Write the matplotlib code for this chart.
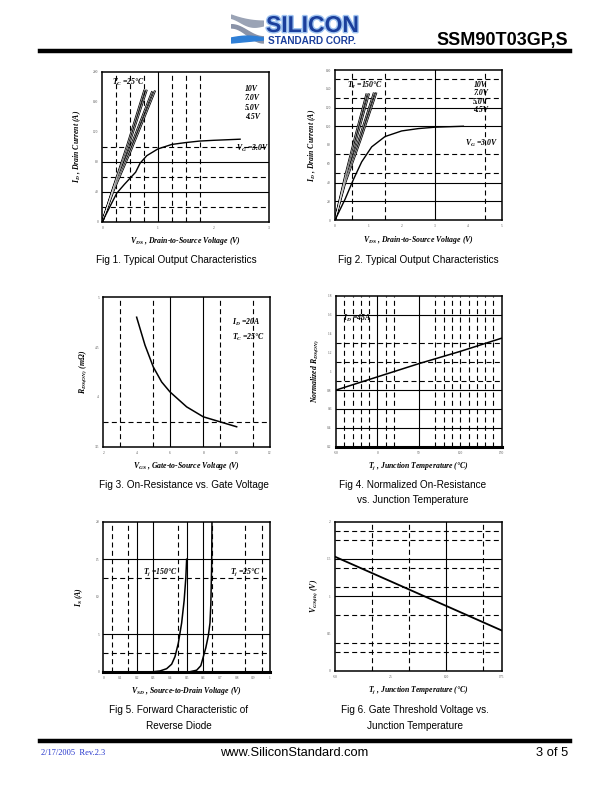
import matplotlib
matplotlib.use('Agg')
import matplotlib.pyplot as plt
import matplotlib.patheffects as pe
import numpy as np

plt.rcParams['mathtext.fontset'] = 'custom'
plt.rcParams['mathtext.it'] = 'Liberation Serif:italic:bold'
plt.rcParams['mathtext.rm'] = 'Liberation Serif:italic:bold'
plt.rcParams['mathtext.bf'] = 'Liberation Serif:bold'

# ---- data ----
# Fig 1 : Tc = 25C
f1_vds_10v = [0, 0.2, 0.45, 0.76]
f1_id_10v = [0, 46, 102, 176]
f1_vds_7v = [0, 0.2, 0.47, 0.80]
f1_id_7v = [0, 45, 101, 176]
f1_vds_5v = [0, 0.2, 0.5, 0.90]
f1_id_5v = [0, 43, 98, 174]
f1_vds_45v = [0, 0.2, 0.52, 0.95]
f1_id_45v = [0, 41, 96, 175]
f1_vds_3v = [0, 0.15, 0.26, 0.4, 0.5, 0.6, 0.68, 0.8, 1.0, 1.25, 1.5, 1.75, 2.0, 2.48]
f1_id_3v = [0, 22, 38, 50, 58, 66, 78, 88, 97, 103, 105.5, 107.5, 108.5, 110]

# Fig 2 : Tj = 150C
f2_vds_10v = [0, 0.3, 0.6, 0.95]
f2_id_10v = [0, 46, 88, 135]
f2_vds_7v = [0, 0.3, 0.65, 1.02]
f2_id_7v = [0, 44, 88, 135]
f2_vds_5v = [0, 0.3, 0.72, 1.17]
f2_id_5v = [0, 41, 86, 136]
f2_vds_45v = [0, 0.3, 0.76, 1.24]
f2_id_45v = [0, 39, 85, 136]
f2_vds_3v = [0, 0.3, 0.55, 0.8, 1.1, 1.5, 2.0, 2.5, 3.0, 3.85]
f2_id_3v = [0, 22, 43, 62, 78, 89, 95, 97.5, 99, 100]

# Fig 3 : RDS(on) vs VGS
f3_vgs = [4, 4.5, 5, 5.5, 6, 7, 8, 9, 10]
f3_rds = [4.80, 4.52, 4.30, 4.15, 4.05, 3.90, 3.80, 3.75, 3.70]

# Fig 4 : normalized RDS(on) vs Tj
f4_tj = [-50, 0, 50, 100, 150]
f4_rn = [0.80, 0.94, 1.08, 1.21, 1.35]

# Fig 5 : body diode
f5_vsd_150 = [0.30, 0.34, 0.38, 0.41, 0.43, 0.45, 0.47, 0.485, 0.495, 0.50]
f5_is_150 = [0.0, 0.1, 0.4, 1.0, 2.0, 3.8, 6.5, 9.5, 12.5, 15.0]
f5_vsd_25 = [0.52, 0.56, 0.585, 0.60, 0.615, 0.63, 0.64, 0.645, 0.65, 0.652]
f5_is_25 = [0.0, 0.2, 0.8, 2.0, 3.2, 4.8, 6.5, 9.0, 14.0, 20.0]

# Fig 6 : VGS(th) vs Tj
f6_tj = [-50, 25, 100, 175]
f6_vth = [1.53, 1.20, 0.87, 0.54]

# axis ticks
f1_xticks = [0, 1, 2, 3]
f1_yticks = [0, 40, 80, 120, 160, 200]
f2_xticks = [0, 1, 2, 3, 4, 5]
f2_yticks = [0, 20, 40, 60, 80, 100, 120, 140, 160]
f3_xticks = [2, 4, 6, 8, 10, 12]
f3_yticks = [3.5, 4.0, 4.5, 5.0]
f4_xticks = [-50, 0, 50, 100, 150]
f4_yticks = [0.2, 0.4, 0.6, 0.8, 1.0, 1.2, 1.4, 1.6, 1.8]
f5_xticks = [0, 0.1, 0.2, 0.3, 0.4, 0.5, 0.6, 0.7, 0.8, 0.9, 1.0]
f5_yticks = [0, 5, 10, 15, 20]
f6_xticks = [-50, 25, 100, 175]
f6_yticks = [0, 0.5, 1, 1.5, 2]

# reference grid lines (solid / dashed)
f1_grid = dict(hs=[40, 80], hd=[20, 60, 100], vs=[1], vd=[0.25, 0.5, 0.75, 1.25, 1.5, 1.75])
f2_grid = dict(hs=[20, 40, 100, 120], hd=[50, 70, 130, 150], vs=[3], vd=[0.5, 1.5, 4.5])
f3_grid = dict(hs=[], hd=[3.75], vs=[6, 8], vd=[3, 5, 9, 11])
f4_grid = dict(hs=[0.4, 0.6, 0.8, 1.6], hd=[0.9, 1.1, 1.3], vs=[0, 50],
               vd=[-40, -30, -20, -10, 10, 20, 70, 80, 90, 100, 110, 120, 130, 140])
f5_grid = dict(hs=[5, 15], hd=[2.5, 12.5], vs=[0.2, 0.3, 0.5, 0.6],
               vd=[0.05, 0.15, 0.45, 0.65, 0.85, 0.95])
f6_grid = dict(hs=[1.0, 1.5], hd=[0.25, 0.375, 0.75, 1.125, 1.375, 1.75, 1.875], vs=[100],
               vd=[0, 50, 150])

W, H = 612, 792
fig = plt.figure(figsize=(W / 100, H / 100), dpi=100)

LAB = dict(family='Liberation Serif', style='italic', weight='bold', size=5.6)
CAP = dict(family='Liberation Sans', size=7.2)


def rect(x0, x1, y0, y1):
    return [x0 / W, 1 - y1 / H, (x1 - x0) / W, (y1 - y0) / H]


def ftext(x, y, s, **kw):
    fig.text(x / W, 1 - y / H, s, **kw)


def setup(r, xlim, ylim, xticks, yticks, grid, xlabel, ylabel, ylab_x):
    ax = fig.add_axes(rect(*r))
    ax.set_xlim(*xlim)
    ax.set_ylim(*ylim)
    ax.set_xticks(xticks)
    ax.set_yticks(yticks)
    ax.set_xticklabels([('%g' % t) for t in xticks])
    ax.set_yticklabels([('%g' % t) for t in yticks])
    ax.tick_params(length=0, pad=3, labelsize=2.6, labelcolor='#555555')
    for lab in ax.get_xticklabels() + ax.get_yticklabels():
        lab.set_family('Liberation Serif')
    for s in ax.spines.values():
        s.set_linewidth(1.1)
    for y in grid['hs']:
        ax.axhline(y, color='black', lw=0.8)
    for y in grid['hd']:
        ax.axhline(y, color='black', lw=0.8, dashes=(4.5, 3))
    for x in grid['vs']:
        ax.axvline(x, color='black', lw=0.8)
    for x in grid['vd']:
        ax.axvline(x, color='black', lw=0.8, dashes=(4.5, 3))
    ax.set_xlabel(xlabel, labelpad=4, **LAB)
    ax.set_ylabel(ylabel, **LAB)
    ax.yaxis.set_label_coords((ylab_x - r[0]) / (r[1] - r[0]), 0.5)
    return ax


def bundle(ax, curves):
    for xs, ys in curves:
        ax.plot(xs, ys, color='black', lw=1.5, solid_capstyle='butt')
    for xs, ys in curves:
        ax.plot(xs, ys, color='white', lw=0.35, solid_capstyle='butt')


# ---- header ----
logo = fig.add_axes(rect(231, 263, 14, 44))
logo.set_xlim(0, 1)
logo.set_ylim(0, 1)
logo.axis('off')
t = np.linspace(0, 1, 50)
logo.fill_between(t, 0.62 + 0.25 * np.cos(np.pi * t) * (1 - t), 0.78 + 0.2 * (1 - t) ** 2,
                  color='#9aa3b5')
logo.fill_between(t, 0.30 + 0.25 * np.cos(np.pi * t), 0.46 + 0.2 * np.cos(np.pi * t),
                  color='#8a93a8')
logo.fill_between(t, 0.05 + 0.1 * t, 0.22 + 0.06 * np.sin(np.pi * t), color='#2f7fd6')
ftext(266, 32, 'SILICON', family='Liberation Sans', weight='bold', size=16.5,
      color='#1b3f9c', va='baseline', ha='left',
      path_effects=[pe.withStroke(linewidth=2.0, foreground='#9fc3f0')])
ftext(268, 41, 'STANDARD CORP.', family='Liberation Sans', weight='bold', size=7.2,
      color='#1b3f9c', va='center', ha='left')
ftext(568, 41, 'SSM90T03GP,S', family='Liberation Sans', weight='bold', size=13,
      ha='right', va='center')
fig.add_artist(plt.Line2D([40 / W, 570 / W], [1 - 51 / H, 1 - 51 / H], color='black', lw=3.2))

# ---- Fig 1 ----
ax1 = setup((102.3, 269, 71.7, 221.7), (0, 3), (0, 200), f1_xticks, f1_yticks, f1_grid,
            r'$V_{DS}$ , Drain-to-Source Voltage (V)', r'$I_D$ , Drain Current (A)', 83)
bundle(ax1, [(f1_vds_10v, f1_id_10v), (f1_vds_7v, f1_id_7v),
             (f1_vds_5v, f1_id_5v), (f1_vds_45v, f1_id_45v)])
ax1.plot(f1_vds_3v, f1_id_3v, color='black', lw=1.0)
ax1.text(0.06, 0.93, r'$T_C$ =25°C', transform=ax1.transAxes, va='center', **LAB)
for i, s in enumerate(['10V', '7.0V', '5.0V', '4.5V']):
    ax1.text(0.855, 0.885 - i * 0.062, s, transform=ax1.transAxes, va='center', **LAB)
ax1.text(0.8, 0.49, r'$V_G$ =3.0V', transform=ax1.transAxes, va='center', **LAB)
ftext(176, 260, 'Fig 1. Typical Output Characteristics', ha='center', va='center', **CAP)

# ---- Fig 2 ----
ax2 = setup((335, 501.7, 70, 220), (0, 5), (0, 160), f2_xticks, f2_yticks, f2_grid,
            r'$V_{DS}$ , Drain-to-Source Voltage (V)', r'$I_D$ , Drain Current (A)', 318)
bundle(ax2, [(f2_vds_10v, f2_id_10v), (f2_vds_7v, f2_id_7v),
             (f2_vds_5v, f2_id_5v), (f2_vds_45v, f2_id_45v)])
ax2.plot(f2_vds_3v, f2_id_3v, color='black', lw=1.0)
ax2.text(0.07, 0.895, r'$T_J$ =150°C', transform=ax2.transAxes, va='center', **LAB)
for i, s in enumerate(['10V', '7.0V', '5.0V', '4.5V']):
    ax2.text(0.83, 0.9 - i * 0.055, s, transform=ax2.transAxes, va='center', **LAB)
ax2.text(0.78, 0.51, r'$V_G$ =3.0V', transform=ax2.transAxes, va='center', **LAB)
ftext(418, 260, 'Fig 2. Typical Output Characteristics', ha='center', va='center', **CAP)

# ---- Fig 3 ----
ax3 = setup((103.3, 270, 297.3, 446.7), (2, 12), (3.5, 5.0), f3_xticks, f3_yticks, f3_grid,
            r'$V_{GS}$ , Gate-to-Source Voltage (V)', r'$R_{DS(ON)}$ (m$\Omega$)', 89)
ax3.plot(f3_vgs, f3_rds, color='black', lw=1.1)
ax3.text(0.77, 0.83, r'$I_D$ =20A', transform=ax3.transAxes, va='center', **LAB)
ax3.text(0.77, 0.73, r'$T_C$ =25°C', transform=ax3.transAxes, va='center', **LAB)
ftext(184, 485, 'Fig 3. On-Resistance vs. Gate Voltage', ha='center', va='center', **CAP)

# ---- Fig 4 ----
ax4 = setup((336, 501.7, 295.7, 446.7), (-50, 150), (0.2, 1.8), f4_xticks, f4_yticks, f4_grid,
            r'$T_j$ , Junction Temperature (°C)', r'Normalized $R_{DS(ON)}$', 321)
ax4.spines['bottom'].set_linewidth(2.2)
ax4.plot(f4_tj, f4_rn, color='black', lw=1.1)
ax4.text(0.04, 0.85, r'$I_D$ =45A', transform=ax4.transAxes, va='center', **LAB)
ftext(413, 485, 'Fig 4. Normalized On-Resistance', ha='center', va='center', **CAP)
ftext(413, 500, 'vs. Junction Temperature', ha='center', va='center', **CAP)

# ---- Fig 5 ----
ax5 = setup((103.3, 270, 521.7, 671.7), (0, 1), (0, 20), f5_xticks, f5_yticks, f5_grid,
            r'$V_{SD}$ , Source-to-Drain Voltage (V)', r'$I_S$ (A)', 85)
ax5.spines['bottom'].set_linewidth(2.2)
ax5.plot(f5_vsd_150, f5_is_150, color='black', lw=1.1)
ax5.plot(f5_vsd_25, f5_is_25, color='black', lw=1.1)
ax5.text(0.24, 0.665, r'$T_j$ =150°C', transform=ax5.transAxes, va='center', **LAB)
ax5.text(0.76, 0.665, r'$T_j$ =25°C', transform=ax5.transAxes, va='center', **LAB)
ftext(179, 710, 'Fig 5. Forward Characteristic of', ha='center', va='center', **CAP)
ftext(179, 726, 'Reverse Diode', ha='center', va='center', **CAP)

# ---- Fig 6 ----
ax6 = setup((335, 501.7, 521.7, 670.7), (-50, 175), (0, 2), f6_xticks, f6_yticks, f6_grid,
            r'$T_j$ , Junction Temperature (°C)', r'$V_{GS(th)}$ (V)', 320)
ax6.plot(f6_tj, f6_vth, color='black', lw=1.3)
ftext(415, 710, 'Fig 6. Gate Threshold Voltage vs.', ha='center', va='center', **CAP)
ftext(415, 726, 'Junction Temperature', ha='center', va='center', **CAP)

# ---- footer ----
fig.add_artist(plt.Line2D([40 / W, 570 / W], [1 - 741 / H, 1 - 741 / H], color='black', lw=3.2))
ftext(41, 753, '2/17/2005  Rev.2.3', family='Liberation Serif', size=6, color='#2233cc',
      va='center')
ftext(294, 753, 'www.SiliconStandard.com', family='Liberation Sans', size=9.3,
      ha='center', va='center')
ftext(568, 753, '3 of 5', family='Liberation Sans', size=9.3, ha='right', va='center')

fig.savefig('out.png', dpi=100)
